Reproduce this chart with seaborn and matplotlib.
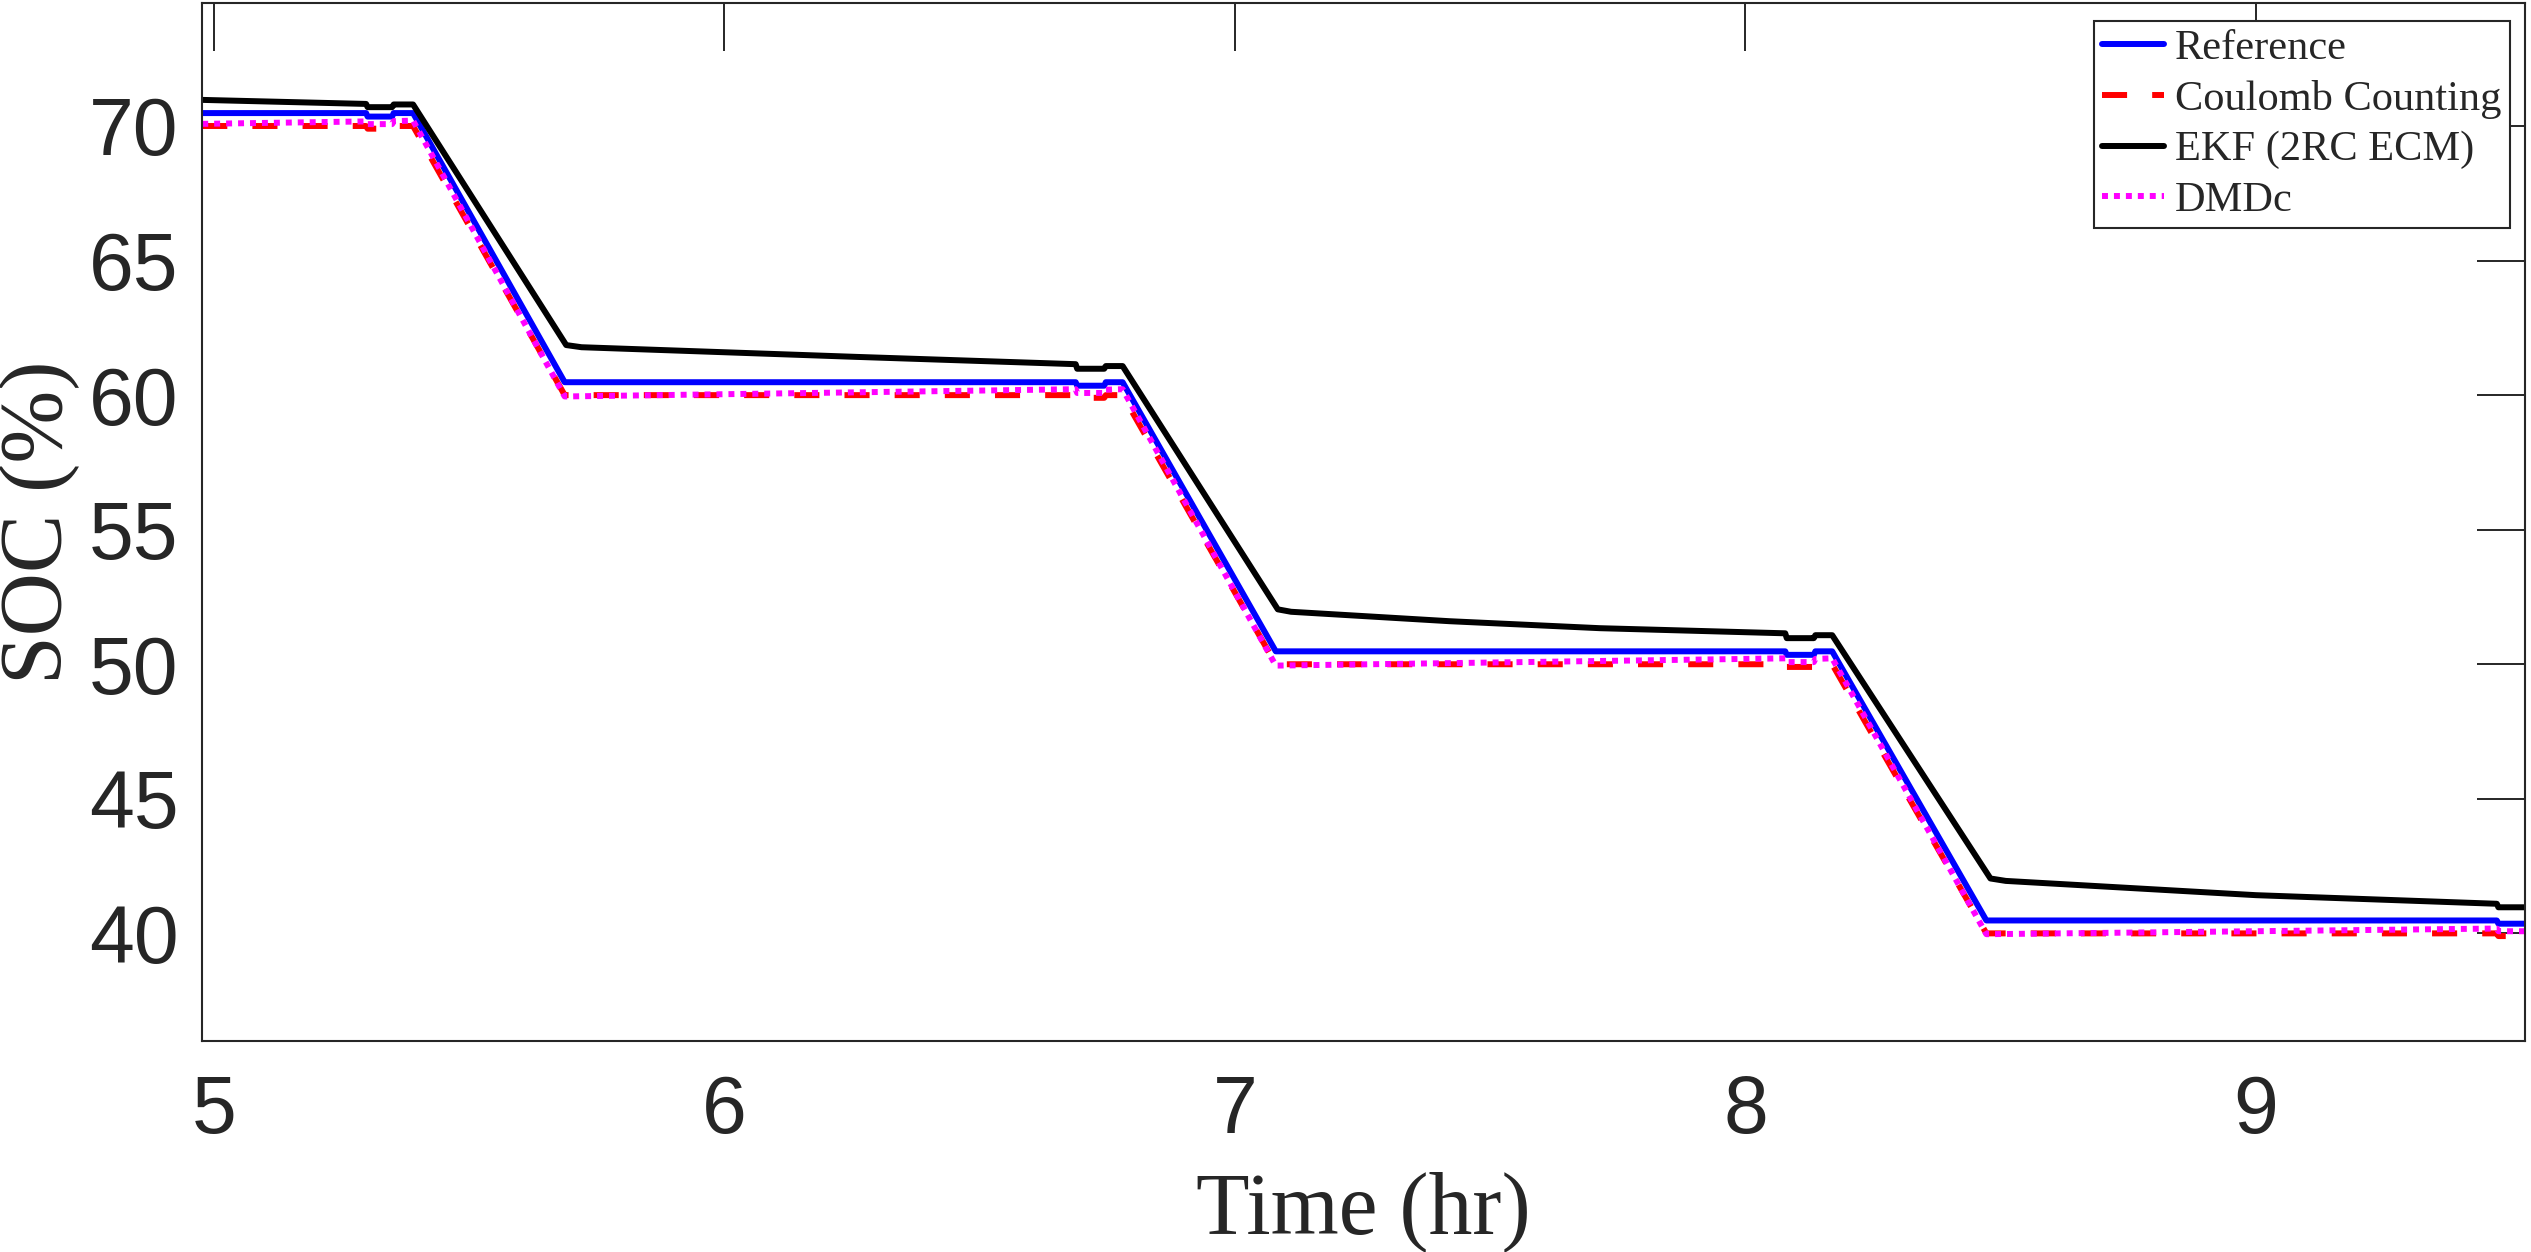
import matplotlib
matplotlib.use("Agg")
import matplotlib.pyplot as plt
import seaborn as sns

# time knots (hr) shared by the reference, coulomb and DMDc traces
time_hr = [4.977, 5.298, 5.301, 5.349, 5.352, 5.390, 5.687, 6.688, 6.691, 6.744, 6.747,
           6.780, 7.080, 8.078, 8.081, 8.134, 8.137, 8.170, 8.472, 9.472, 9.475, 9.530]
soc_reference = [70.48, 70.48, 70.35, 70.35, 70.48, 70.48, 60.48, 60.48, 60.35, 60.35, 60.48,
                 60.48, 50.48, 50.48, 50.35, 50.35, 50.48, 50.48, 40.48, 40.48, 40.36, 40.36]
soc_coulomb = [70.00, 70.00, 69.90, 69.90, 70.00, 70.00, 60.00, 60.00, 59.90, 59.90, 60.00,
               60.00, 50.00, 50.00, 49.90, 49.90, 50.00, 50.00, 40.00, 40.00, 39.90, 39.90]
soc_dmdc = [70.08, 70.17, 70.07, 70.07, 70.18, 70.20, 59.95, 60.22, 60.08, 60.08, 60.20,
            60.22, 49.95, 50.22, 50.08, 50.08, 50.20, 50.22, 39.97, 40.18, 40.08, 40.08]

# EKF has its own knots (relaxation after each discharge step)
time_ekf = [4.977, 5.298, 5.301, 5.349, 5.352, 5.390, 5.690, 5.720, 6.260, 6.688, 6.691,
            6.744, 6.747, 6.780, 7.084, 7.110, 7.420, 7.715, 8.078, 8.081, 8.134, 8.137,
            8.170, 8.480, 8.510, 9.000, 9.472, 9.475, 9.530]
soc_ekf = [70.97, 70.82, 70.70, 70.70, 70.80, 70.80, 61.86, 61.78, 61.42, 61.15, 60.98,
           60.98, 61.08, 61.08, 52.04, 51.95, 51.60, 51.34, 51.15, 50.97, 50.97, 51.08,
           51.08, 42.04, 41.95, 41.42, 41.10, 40.97, 40.97]

labels = ["Reference", "Coulomb Counting", "EKF (2RC ECM)", "DMDc"]
x_ticks = [5, 6, 7, 8, 9]
y_ticks = [40, 45, 50, 55, 60, 65, 70]

sns.set_style("white")
plt.rcParams["font.family"] = ["Liberation Serif", "DejaVu Serif"]
dark = "#262626"

fig = plt.figure(figsize=(25.31, 12.52), dpi=100)
ax = fig.add_axes([0.0798, 0.1685, 0.9178, 0.8291])

lw = 4.3
sns.lineplot(x=time_hr, y=soc_reference, ax=ax, color="#0000FF", linewidth=lw,
             label=labels[0], sort=False, estimator=None)
sns.lineplot(x=time_hr, y=soc_coulomb, ax=ax, color="#FF0000", linewidth=lw,
             linestyle=(0, (4.2, 4.2)), label=labels[1], sort=False, estimator=None)
sns.lineplot(x=time_ekf, y=soc_ekf, ax=ax, color="#000000", linewidth=lw,
             label=labels[2], sort=False, estimator=None)
sns.lineplot(x=time_hr, y=soc_dmdc, ax=ax, color="#FF00FF", linewidth=lw,
             linestyle=(0, (1.0, 1.0)), label=labels[3], sort=False, estimator=None)
for ln in ax.get_lines():
    ln.set_dash_capstyle("butt")

ax.set_xlim(4.9765, 9.527)
ax.set_ylim(36.0, 74.57)
ax.set_xticks(x_ticks)
ax.set_yticks(y_ticks)
ax.tick_params(axis="both", which="major", direction="in", length=34.5, width=1.4,
               color=dark, top=True, right=True, labelcolor=dark)
ax.tick_params(axis="x", pad=24)
ax.tick_params(axis="y", pad=17)
for lab in ax.get_xticklabels() + ax.get_yticklabels():
    lab.set_family(["Liberation Sans", "DejaVu Sans"])
    lab.set_fontsize(58)
for sp in ax.spines.values():
    sp.set_color(dark)
    sp.set_linewidth(1.5)
    sp.set_visible(True)

ax.set_xlabel("Time (hr)", fontsize=63, color=dark)
ax.set_ylabel("SOC (%)", fontsize=63, color=dark)
ax.xaxis.set_label_coords(0.5, -0.1255)
ax.yaxis.set_label_coords(-0.0525, 0.5)

leg = ax.legend(loc="upper right", bbox_to_anchor=(0.9935, 0.9827), borderaxespad=0,
                fontsize=30.5, frameon=True, fancybox=False, framealpha=1,
                handlelength=1.47, handletextpad=0.25, labelspacing=0.28, borderpad=0.2)
leg.get_frame().set_edgecolor(dark)
leg.get_frame().set_linewidth(1.5)
for txt in leg.get_texts():
    txt.set_color(dark)

fig.savefig("out.png", dpi=100)
